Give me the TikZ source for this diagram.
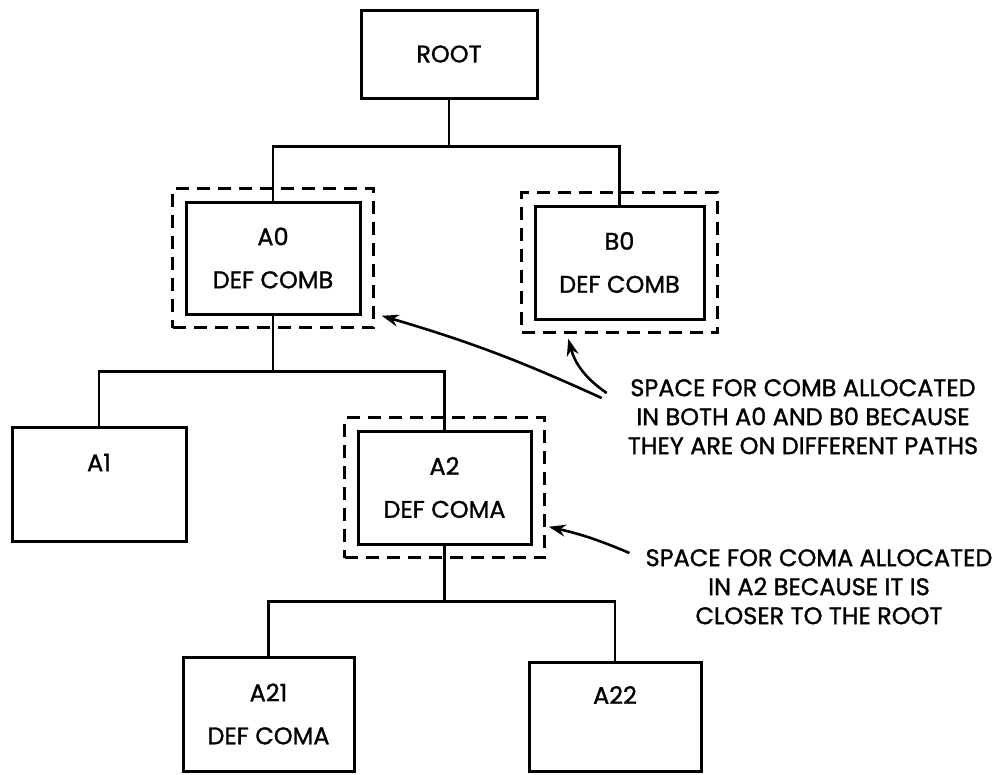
\documentclass[tikz,border=0pt]{standalone}
\usepackage{fontspec}
\setmainfont{Poppins}[FakeBold=1.2]
\usetikzlibrary{arrows.meta,fit}

\begin{document}
\begin{tikzpicture}[x=1pt,y=-1pt,
  box/.style={draw,line width=3pt,inner sep=0pt,align=center,font=\fontsize{24}{43}\selectfont},
  zone/.style={draw,line width=2.5pt,dash pattern=on 13pt off 8pt,inner sep=12pt},
  wire/.style={line width=2.6pt},
  note/.style={align=center,inner sep=0pt,font=\fontsize{24}{29}\selectfont},
  pointer/.style={line width=2.6pt,-{Stealth[length=17pt,width=12pt]}}]
\useasboundingbox (0,0) rectangle (1003,774);

%%%%%%%%%%% the tree
\node[box,minimum width=176pt,minimum height=88pt] (root) at (449,54) {ROOT};
\node[box,minimum width=174pt,minimum height=112pt] (a0) at (273,258) {A0\\DEF COMB};
\node[box,minimum width=169pt,minimum height=113pt] (b0) at (619.5,262.5) {B0\\DEF COMB};
\node[box,minimum width=174pt,minimum height=114pt] (a1) at (99,484) {A1\\\phantom{A}};
\node[box,minimum width=173pt,minimum height=113pt] (a2) at (444.5,487.5) {A2\\DEF COMA};
\node[box,minimum width=171pt,minimum height=114pt] (a21) at (268.5,714) {A21\\DEF COMA};
\node[box,minimum width=172pt,minimum height=109pt] (a22) at (615,716.5) {A22\\\phantom{A}};

% ---------------    links
\draw[wire] (root.south) -- +(0,47) coordinate (top bus);
\draw[wire] (a0.north) |- (top bus) -| (b0.north);
\draw[wire] (a0.south) -- +(0,56) coordinate (a0 bus);
\draw[wire] (a1.north) |- (a0 bus) -| (a2.north);
\draw[wire] (a2.south) -- +(0,56) coordinate (a2 bus);
\draw[wire] (a21.north) |- (a2 bus) -| (a22.north);

% ---------------    space allocated
\node[zone,fit=(a0)] (a0zone) {};
\node[zone,fit=(b0)] (b0zone) {};
\node[zone,fit=(a2)] (a2zone) {};

% ---------------    notes
\node[note,anchor=north] (combnote) at (803,379) {SPACE FOR COMB ALLOCATED\\IN BOTH A0 AND B0 BECAUSE\\THEY ARE ON DIFFERENT PATHS};
\node[note,anchor=north] (comanote) at (819,549) {SPACE FOR COMA ALLOCATED\\IN A2 BECAUSE IT IS\\CLOSER TO THE ROOT};

\draw[pointer] ([xshift=-26pt,yshift=-19pt]combnote.north west) to[bend right=4] ([xshift=7pt,yshift=13pt]a0zone.south east);
\draw[pointer] ([xshift=-21pt,yshift=-14pt]combnote.north west) to[bend left=20] ([xshift=48pt,yshift=-5pt]b0zone.south west);
\draw[pointer] ([xshift=-16pt,yshift=-4pt]comanote.north west) to[bend right=5] ([xshift=3pt,yshift=32pt]a2zone.south east);
\end{tikzpicture}
\end{document}
